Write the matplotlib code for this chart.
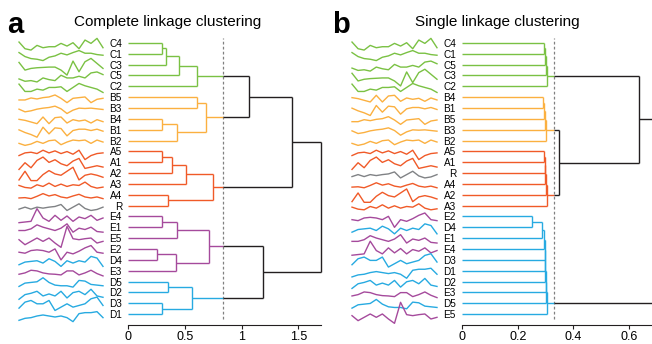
import numpy as np
import matplotlib
matplotlib.use('Agg')
import matplotlib.pyplot as plt

plt.rcParams['font.family'] = ['Liberation Sans', 'DejaVu Sans']

# colours of the groups (first letter of the leaf name)
GROUP_COLORS = {'A': '#f05a28', 'B': '#fbb040', 'C': '#7ac143',
                'D': '#27aae1', 'E': '#a54a9c', 'R': '#808285'}
LINK_BLACK = '#231f20'

# profiles drawn next to each leaf (15 samples, arbitrary units, up = positive)
sig_C4 = [9, -11, -15, -1, -8, -5, -5, 5, -3, 7, -11, 15, 5, 20, -8]
sig_C1 = [10, -2, -8, -10, -14, -4, 0, 8, 3, 10, 16, 8, 8, 4, 2]
sig_C5 = [-4, -11, -9, -13, -1, -6, -9, 7, -1, -1, 4, -1, 14, 17, 9]
sig_C3 = [13, -10, -5, -3, -2, -1, -1, -10, -25, 17, -15, 15, 25, 10, -5]
sig_C2 = [13, -9, -9, -2, -5, 3, 3, 5, -9, 3, 15, 8, 3, -2, -12]
sig_B4 = [5, 2, -3, -8, 12, -8, 10, 12, -6, 4, 0, 3, -6, 4, -2]
sig_B1 = [6, -2, -8, -16, 14, -6, 12, 10, -12, 4, 8, 8, 4, 8, 2]
sig_B5 = [-2, -2, 4, 1, 5, 7, 13, 3, -10, 3, 5, 7, -10, 0, 3]
sig_B3 = [3, -5, -2, 3, 6, 8, 12, 4, -10, 0, 6, 5, 6, 4, 2]
sig_B2 = [-2, -8, -4, 4, -2, 6, 8, -6, 2, 8, 6, 8, -2, 8, 2]
sig_A5 = [-6, 2, 4, 0, 10, 2, 8, 0, 6, -2, 10, -18, -6, 0, 2]
sig_A1 = [-15, 5, -10, 12, 22, 6, 14, 2, -4, 10, 18, -12, -8, -4, -8]
sig_R = [-4, 2, -4, 2, -1, 2, 4, 10, -8, 2, 12, -2, -8, -5, 2]
sig_A4 = [-3, -2, -5, 2, 10, 3, 7, 0, -3, 3, 8, 0, -3, 0, -5]
sig_A2 = [-14, 12, -16, -16, 2, 14, 4, 0, 12, 24, -14, 0, 4, 0, -6]
sig_A3 = [2, -4, -6, 4, -1, 9, -1, 6, -1, 4, 2, 12, -1, -6, -3]
sig_E2 = [-3, -6, 2, 4, 2, -3, 7, -26, -3, -8, 0, 10, 17, -3, -6]
sig_D4 = [-8, 0, 2, 4, -3, 10, 2, -13, 4, -3, 4, 0, 17, 12, -13]
sig_E1 = [-3, -3, 2, 14, 7, 2, -3, 4, 17, -8, 4, 0, 7, -6, -8]
sig_E4 = [-12, -10, -8, 30, 2, -8, 10, -5, 8, -8, 5, 0, 10, -5, 2]
sig_D3 = [-8, 10, 15, 5, 5, 15, -15, -5, 5, -5, 0, 5, 20, 25, 0]
sig_D1 = [-12, -6, -4, 1, 4, 1, -2, 1, -4, -16, 8, 11, 11, 14, -4]
sig_D2 = [-14, 0, 4, 10, -4, 2, -4, 10, -10, 6, 10, 0, 16, -4, -8]
sig_E3 = [-4, 0, 8, 6, 0, -3, -4, -6, 6, 6, -6, 0, 8, -2, -9]
sig_D5 = [-8, 2, 4, 6, 18, 4, -4, -6, -6, -10, 10, 8, -2, -4, -6]
sig_E5 = [2, -13, -3, 7, -3, 7, -8, -21, 42, 5, 2, 5, 7, -8, -3]

SIGNALS = {'C4': sig_C4, 'C1': sig_C1, 'C5': sig_C5, 'C3': sig_C3, 'C2': sig_C2,
           'B4': sig_B4, 'B1': sig_B1, 'B5': sig_B5, 'B3': sig_B3, 'B2': sig_B2,
           'A5': sig_A5, 'A1': sig_A1, 'R': sig_R, 'A4': sig_A4, 'A2': sig_A2,
           'A3': sig_A3, 'E2': sig_E2, 'D4': sig_D4, 'E1': sig_E1, 'E4': sig_E4,
           'D3': sig_D3, 'D1': sig_D1, 'D2': sig_D2, 'E3': sig_E3, 'D5': sig_D5,
           'E5': sig_E5}
SIG_SCALE = 32.5  # signal units per leaf row

# complete linkage: leaf order (top to bottom) and merges (node, left, right, height)
LEAVES_A = ['C4', 'C1', 'C3', 'C5', 'C2', 'B5', 'B3', 'B4', 'B1', 'B2',
            'A5', 'A1', 'A2', 'A3', 'A4', 'R', 'E4', 'E1', 'E5', 'E2',
            'D4', 'E3', 'D5', 'D2', 'D3', 'D1']
MERGES_A = [
    ('c1', 'C4', 'C1', 0.30), ('c2', 'c1', 'C3', 0.33), ('c3', 'c2', 'C5', 0.447),
    ('cC', 'c3', 'C2', 0.604),
    ('b1', 'B5', 'B3', 0.604), ('b2', 'B4', 'B1', 0.30), ('b3', 'b2', 'B2', 0.427),
    ('bB', 'b1', 'b3', 0.686),
    ('a1', 'A5', 'A1', 0.30), ('a2', 'a1', 'A2', 0.388), ('a3', 'a2', 'A3', 0.509),
    ('a4', 'A4', 'R', 0.353), ('aA', 'a3', 'a4', 0.75),
    ('e1', 'E4', 'E1', 0.30), ('e2', 'e1', 'E5', 0.427), ('e3', 'E2', 'D4', 0.25),
    ('e4', 'e3', 'E3', 0.421), ('eE', 'e2', 'e4', 0.715),
    ('d1', 'D5', 'D2', 0.348), ('d2', 'D3', 'D1', 0.30), ('dD', 'd1', 'd2', 0.562),
    ('CB', 'cC', 'bB', 1.068), ('CBA', 'CB', 'aA', 1.442), ('ED', 'eE', 'dD', 1.19),
    ('root', 'CBA', 'ED', 1.70),
]
CLUSTERS_A = {'cC': 'C', 'bB': 'B', 'aA': 'A', 'eE': 'E', 'dD': 'D'}
CUT_A = 0.833
TICKS_A = [0, 0.5, 1, 1.5]
TICKLABELS_A = ['0', '0.5', '1', '1.5']

# single linkage
LEAVES_B = ['C4', 'C1', 'C5', 'C3', 'C2', 'B4', 'B1', 'B5', 'B3', 'B2',
            'A5', 'A1', 'R', 'A4', 'A2', 'A3', 'E2', 'D4', 'E1', 'E4',
            'D3', 'D1', 'D2', 'E3', 'D5', 'E5']
MERGES_B = [
    ('c1', 'C4', 'C1', 0.293), ('c2', 'c1', 'C5', 0.298), ('c3', 'c2', 'C3', 0.301),
    ('cC', 'c3', 'C2', 0.304),
    ('b1', 'B4', 'B1', 0.292), ('b2', 'b1', 'B5', 0.295), ('b3', 'b2', 'B3', 0.298),
    ('bB', 'b3', 'B2', 0.302),
    ('a1', 'A5', 'A1', 0.293), ('a2', 'a1', 'R', 0.296), ('a3', 'a2', 'A4', 0.298),
    ('a4', 'a3', 'A2', 0.300), ('aA', 'a4', 'A3', 0.304),
    ('e1', 'E2', 'D4', 0.251), ('e2', 'e1', 'E1', 0.288), ('e3', 'e2', 'E4', 0.295),
    ('e4', 'e3', 'D3', 0.297), ('e5', 'e4', 'D1', 0.298), ('e6', 'e5', 'D2', 0.299),
    ('e7', 'e6', 'E3', 0.300), ('e8', 'e7', 'D5', 0.302), ('eD', 'e8', 'E5', 0.306),
    ('BA', 'bB', 'aA', 0.349), ('CBA', 'cC', 'BA', 0.637),
    ('root', 'CBA', 'eD', 0.75),
]
CLUSTERS_B = {'cC': 'C', 'bB': 'B', 'aA': 'A', 'eD': 'D'}
CUT_B = 0.33
TICKS_B = [0, 0.2, 0.4, 0.6]
TICKLABELS_B = ['0', '0.2', '0.4', '0.6']

W, H = 652, 344
ROW_TOP, ROW_BOTTOM = -0.45, 26.0


def fig_axes(fig, x0, x1):
    # pixel box -> figure axes (rows share the same vertical extent)
    return fig.add_axes([x0 / W, (H - 325) / H, (x1 - x0) / W, (325 - 38) / H])


def draw_dendrogram(ax, leaves, merges, clusters, cut):
    children = {m[0]: (m[1], m[2]) for m in merges}
    color = {}

    def paint(node, c):
        color[node] = c
        for ch in children.get(node, ()):
            paint(ch, c)

    for node, grp in clusters.items():
        paint(node, GROUP_COLORS[grp])

    pos = {name: i for i, name in enumerate(leaves)}
    height = {name: 0.0 for name in leaves}
    kw = dict(lw=1.0, solid_capstyle='butt', clip_on=False)
    for node, left, right, h in merges:
        pos[node] = (pos[left] + pos[right]) / 2
        height[node] = h
        c = color.get(node, LINK_BLACK)
        ax.plot([h, h], [pos[left], pos[right]], color=c, **kw)
        for ch in (left, right):
            y = pos[ch]
            if node in color or ch not in color:
                ax.plot([height[ch], h], [y, y], color=c, **kw)
            else:
                # cluster root: coloured up to the cut, black above it
                ax.plot([height[ch], cut], [y, y], color=color[ch], **kw)
                ax.plot([cut, h], [y, y], color=LINK_BLACK, **kw)

    ax.axvline(cut, ymin=0.02, ymax=1.0, color='#808080', lw=0.9,
               ls=(0, (2.2, 1.8)), zorder=0)
    ax.set_ylim(ROW_BOTTOM, ROW_TOP)
    ax.set_yticks(range(len(leaves)))
    ax.set_yticklabels(leaves, fontsize=7.2)
    ax.tick_params(axis='y', length=0, pad=4.6)
    ax.tick_params(axis='x', length=3, width=0.8, pad=1.5, labelsize=9,
                   color=LINK_BLACK)
    for s in ('left', 'top', 'right'):
        ax.spines[s].set_visible(False)
    ax.spines['bottom'].set_linewidth(0.8)
    ax.spines['bottom'].set_color(LINK_BLACK)
    ax.patch.set_visible(False)


def draw_signals(ax, leaves):
    x = np.arange(15)
    for i, name in enumerate(leaves):
        y = i + 0.2 - np.array(SIGNALS[name]) / SIG_SCALE
        ax.plot(x, y, color=GROUP_COLORS[name[0]], lw=1.0, clip_on=False)
    ax.set_xlim(0, 14)
    ax.set_ylim(ROW_BOTTOM, ROW_TOP)
    ax.axis('off')


fig = plt.figure(figsize=(W / 100, H / 100), dpi=100)

# panel a
ax_sa = fig_axes(fig, 19, 103)
draw_signals(ax_sa, LEAVES_A)
ax_a = fig_axes(fig, 128.3, 321)
draw_dendrogram(ax_a, LEAVES_A, MERGES_A, CLUSTERS_A, CUT_A)
ax_a.set_xlim(0, 1.70)
ax_a.set_xticks(TICKS_A)
ax_a.set_xticklabels(TICKLABELS_A)

# panel b
ax_sb = fig_axes(fig, 352, 437)
draw_signals(ax_sb, LEAVES_B)
ax_b = fig_axes(fig, 462.3, 652)
draw_dendrogram(ax_b, LEAVES_B, MERGES_B, CLUSTERS_B, CUT_B)
ax_b.set_xlim(0, 0.683)
ax_b.set_xticks(TICKS_B)
ax_b.set_xticklabels(TICKLABELS_B)

fig.text(168 / W, 1 - 22 / H, 'Complete linkage clustering', ha='center',
         va='center', fontsize=11)
fig.text(497 / W, 1 - 22 / H, 'Single linkage clustering', ha='center',
         va='center', fontsize=11)
fig.text(7 / W, 1 - 33 / H, 'a', ha='left', va='baseline', fontsize=21,
         fontweight='bold')
fig.text(332 / W, 1 - 33 / H, 'b', ha='left', va='baseline', fontsize=21,
         fontweight='bold')

fig.savefig('out.png', dpi=100)
